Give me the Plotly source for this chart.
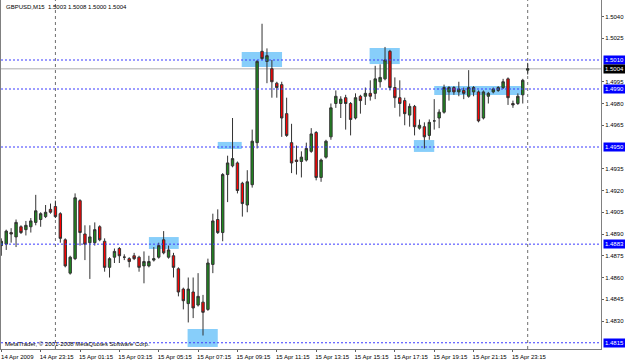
import pandas as pd
import plotly.graph_objects as go

# ---------------- data ----------------
bar_times = pd.date_range("2009-04-14 21:15", periods=108, freq="15min")

opens = [1.4882, 1.4883, 1.4891, 1.4888, 1.4895, 1.4893, 1.4895, 1.4898, 1.4900, 1.4902,
         1.4907, 1.4909, 1.4904, 1.4886, 1.4863, 1.4873, 1.4913, 1.4890, 1.4884, 1.4884,
         1.4895, 1.4885, 1.4867, 1.4874, 1.4880, 1.4874, 1.4873, 1.4875, 1.4874, 1.4868,
         1.4868, 1.4872, 1.4874, 1.4886, 1.4874, 1.4875, 1.4866, 1.4852, 1.4842, 1.4850,
         1.4841, 1.4843, 1.4838, 1.4869, 1.4900, 1.4891, 1.4931, 1.4937, 1.4939, 1.4925,
         1.4910, 1.4924, 1.4953, 1.5016, 1.5009, 1.5004, 1.4994, 1.4993, 1.4973, 1.4953,
         1.4941, 1.4940, 1.4941, 1.4947, 1.4960, 1.4929, 1.4943, 1.4957, 1.4980, 1.4980,
         1.4984, 1.4980, 1.4970, 1.4985, 1.4985, 1.4987, 1.4987, 1.4995, 1.4997, 1.5016,
         1.4991, 1.4984, 1.4982, 1.4972, 1.4978, 1.4963, 1.4964, 1.4958, 1.4968, 1.4970,
         1.4974, 1.4988, 1.4991, 1.4988, 1.4989, 1.4985, 1.4988, 1.4988, 1.4970, 1.4985,
         1.4988, 1.4989, 1.4991, 1.4997, 1.4980, 1.4980, 1.4986, 1.5003]
highs = [1.4887, 1.4893, 1.4894, 1.4900, 1.4896, 1.4899, 1.4901, 1.4917, 1.4905, 1.4910,
         1.4911, 1.4913, 1.4905, 1.4887, 1.4875, 1.4918, 1.4914, 1.4896, 1.4896, 1.4898,
         1.4896, 1.4887, 1.4874, 1.4880, 1.4881, 1.4876, 1.4874, 1.4877, 1.4875, 1.4878,
         1.4875, 1.4881, 1.4884, 1.4892, 1.4882, 1.4877, 1.4867, 1.4853, 1.4860, 1.4860,
         1.4863, 1.4848, 1.4873, 1.4904, 1.4907, 1.4932, 1.4944, 1.4970, 1.4940, 1.4926,
         1.4934, 1.4962, 1.5010, 1.5035, 1.5018, 1.5010, 1.4995, 1.4995, 1.4984, 1.4966,
         1.4951, 1.4947, 1.4953, 1.4963, 1.4961, 1.4942, 1.4955, 1.4980, 1.4989, 1.4985,
         1.4986, 1.4981, 1.4987, 1.4986, 1.4991, 1.4996, 1.5006, 1.5007, 1.5019, 1.5017,
         1.4998, 1.4996, 1.4984, 1.4980, 1.4979, 1.4969, 1.4967, 1.4969, 1.4983, 1.4976,
         1.4993, 1.4992, 1.4992, 1.4995, 1.4991, 1.5003, 1.4992, 1.4989, 1.4989, 1.4988,
         1.4991, 1.4992, 1.4997, 1.4998, 1.4982, 1.4987, 1.4997, 1.5008]
lows = [1.4875, 1.4879, 1.4884, 1.4881, 1.4890, 1.4889, 1.4891, 1.4896, 1.4895, 1.4901,
        1.4904, 1.4901, 1.4884, 1.4867, 1.4862, 1.4872, 1.4882, 1.4872, 1.4859, 1.4882,
        1.4885, 1.4864, 1.4860, 1.4870, 1.4870, 1.4872, 1.4867, 1.4872, 1.4864, 1.4856,
        1.4867, 1.4871, 1.4873, 1.4876, 1.4873, 1.4860, 1.4847, 1.4838, 1.4829, 1.4832,
        1.4840, 1.4820, 1.4837, 1.4863, 1.4890, 1.4885, 1.4912, 1.4936, 1.4918, 1.4902,
        1.4905, 1.4922, 1.4949, 1.5010, 1.4994, 1.4984, 1.4984, 1.4957, 1.4957, 1.4932,
        1.4931, 1.4929, 1.4940, 1.4946, 1.4927, 1.4926, 1.4942, 1.4955, 1.4977, 1.4970,
        1.4962, 1.4958, 1.4969, 1.4973, 1.4979, 1.4982, 1.4983, 1.4991, 1.4996, 1.4989,
        1.4977, 1.4971, 1.4965, 1.4964, 1.4958, 1.4962, 1.4949, 1.4955, 1.4962, 1.4963,
        1.4973, 1.4982, 1.4986, 1.4985, 1.4983, 1.4984, 1.4985, 1.4967, 1.4969, 1.4980,
        1.4987, 1.4988, 1.4990, 1.4979, 1.4977, 1.4979, 1.4980, 1.5000]
closes = [1.4885, 1.4892, 1.4890, 1.4898, 1.4891, 1.4896, 1.4899, 1.4906, 1.4904, 1.4905,
          1.4905, 1.4902, 1.4887, 1.4868, 1.4874, 1.4915, 1.4891, 1.4883, 1.4888, 1.4893,
          1.4886, 1.4867, 1.4873, 1.4878, 1.4875, 1.4874, 1.4871, 1.4873, 1.4867, 1.4871,
          1.4871, 1.4873, 1.4882, 1.4877, 1.4879, 1.4867, 1.4850, 1.4844, 1.4852, 1.4839,
          1.4847, 1.4836, 1.4870, 1.4899, 1.4891, 1.4931, 1.4939, 1.4942, 1.4920, 1.4911,
          1.4926, 1.4954, 1.5009, 1.5011, 1.5013, 1.4995, 1.4991, 1.4970, 1.4958, 1.4939,
          1.4940, 1.4943, 1.4949, 1.4959, 1.4929, 1.4941, 1.4954, 1.4977, 1.4985, 1.4983,
          1.4980, 1.4969, 1.4984, 1.4982, 1.4987, 1.4985, 1.4997, 1.4998, 1.5010, 1.4991,
          1.4984, 1.4980, 1.4973, 1.4978, 1.4964, 1.4965, 1.4957, 1.4967, 1.4968, 1.4974,
          1.4991, 1.4991, 1.4988, 1.4990, 1.4987, 1.4991, 1.4991, 1.4968, 1.4988, 1.4987,
          1.4990, 1.4991, 1.4995, 1.4984, 1.4979, 1.4985, 1.4996, 1.5004]

symbol_text = "GBPUSD,M15  1.5003 1.5008 1.5000 1.5004"
footer_text = "MetaTrader, \u00a9 2001-2008 MetaQuotes Software Corp."

x_tick_times = ["2009-04-14 21:15", "2009-04-14 23:15", "2009-04-15 01:15", "2009-04-15 03:15",
                "2009-04-15 05:15", "2009-04-15 07:15", "2009-04-15 09:15", "2009-04-15 11:15",
                "2009-04-15 13:15", "2009-04-15 15:15", "2009-04-15 17:15", "2009-04-15 19:15",
                "2009-04-15 21:15", "2009-04-15 23:15"]
x_tick_labels = ["14 Apr 2009", "14 Apr 23:15", "15 Apr 01:15", "15 Apr 03:15", "15 Apr 05:15",
                 "15 Apr 07:15", "15 Apr 09:15", "15 Apr 11:15", "15 Apr 13:15", "15 Apr 15:15",
                 "15 Apr 17:15", "15 Apr 19:15", "15 Apr 21:15", "15 Apr 23:15"]

y_tick_values = [1.5040, 1.5025, 1.4995, 1.4980, 1.4965, 1.4935, 1.4920, 1.4905,
                 1.4890, 1.4875, 1.4860, 1.4845, 1.4830]

level_prices = [1.5010, 1.4990, 1.4950, 1.4883, 1.4815]
level_labels = ["1.5010", "1.4990", "1.4950", "1.4883", "1.4815"]
bid_price = 1.5004
bid_label = "1.5004"

separator_times = ["2009-04-15 00:00", "2009-04-16 00:00"]

# zones: (start time, end time, top price, bottom price)
zone_starts = ["2009-04-15 09:28", "2009-04-15 08:15", "2009-04-15 15:58", "2009-04-15 18:13",
               "2009-04-15 19:15", "2009-04-15 04:45", "2009-04-15 06:43"]
zone_ends = ["2009-04-15 11:31", "2009-04-15 09:28", "2009-04-15 17:30", "2009-04-15 19:15",
             "2009-04-15 23:42", "2009-04-15 06:16", "2009-04-15 08:15"]
zone_tops = [1.50155, 1.49535, 1.50183, 1.49548, 1.49921, 1.48879, 1.48245]
zone_bottoms = [1.50052, 1.49486, 1.50072, 1.49466, 1.49859, 1.48797, 1.48121]

x_range = ["2009-04-14 21:14:05", "2009-04-16 03:43:30"]
y_range = [1.481069, 1.505138]

# ---------------- figure ----------------
FONT = "Liberation Sans, Arial, sans-serif"

fig = go.Figure()
fig.add_trace(go.Candlestick(
    x=bar_times, open=opens, high=highs, low=lows, close=closes,
    increasing=dict(fillcolor="#1f8a1f", line=dict(color="#333333", width=1)),
    decreasing=dict(fillcolor="#ff0000", line=dict(color="#333333", width=1)),
    whiskerwidth=0, showlegend=False, hoverinfo="skip",
))

shapes = []
for s, e, t, b in zip(zone_starts, zone_ends, zone_tops, zone_bottoms):
    shapes.append(dict(type="rect", xref="x", yref="y", x0=s, x1=e, y0=b, y1=t,
                       fillcolor="#87cefa", line=dict(width=0), layer="below"))
for t in separator_times:
    shapes.append(dict(type="line", xref="x", yref="paper", x0=t, x1=t, y0=0, y1=1,
                       line=dict(color="#6e6e6e", width=1, dash="dot"), layer="below"))
shapes.append(dict(type="line", xref="paper", yref="y", x0=0, x1=1, y0=bid_price, y1=bid_price,
                   line=dict(color="#c8c8c8", width=1.5), layer="below"))
for p in level_prices:
    shapes.append(dict(type="line", xref="paper", yref="y", x0=0, x1=1, y0=p, y1=p,
                       line=dict(color="#3a3aff", width=1, dash="2px,2px"), layer="above"))

annotations = []
for p, lab in zip(level_prices, level_labels):
    annotations.append(dict(xref="paper", yref="y", x=1, y=p, xanchor="left", yanchor="middle",
                            xshift=2, text=lab, showarrow=False, bgcolor="#0000ff",
                            borderpad=1, font=dict(family=FONT, size=6, color="white")))
annotations.append(dict(xref="paper", yref="y", x=1, y=bid_price, xanchor="left", yanchor="middle",
                        xshift=2, text=bid_label, showarrow=False, bgcolor="#000000",
                        borderpad=1, font=dict(family=FONT, size=6, color="white")))
annotations.append(dict(xref="paper", yref="paper", x=0, y=1, xanchor="left", yanchor="top",
                        xshift=3, yshift=-2, text=symbol_text, showarrow=False,
                        font=dict(family=FONT, size=6, color="black")))
annotations.append(dict(xref="paper", yref="paper", x=0, y=0, xanchor="left", yanchor="bottom",
                        xshift=2, yshift=0, text=footer_text, showarrow=False,
                        font=dict(family=FONT, size=6, color="black")))

fig.update_layout(
    width=625, height=361,
    margin=dict(l=1, r=24, t=0, b=12),
    paper_bgcolor="white", plot_bgcolor="white",
    shapes=shapes, annotations=annotations,
    font=dict(family=FONT, size=6, color="black"),
    xaxis=dict(type="date", range=x_range, rangeslider=dict(visible=False),
               tickmode="array", tickvals=x_tick_times, ticktext=x_tick_labels,
               showgrid=False, zeroline=False, showline=True, linecolor="#808080", linewidth=1,
               ticks="outside", ticklen=2, tickcolor="#606060", ticklabelshift=16,
               tickfont=dict(family=FONT, size=6, color="black"), fixedrange=True),
    yaxis=dict(side="right", range=y_range, tickmode="array", tickvals=y_tick_values,
               ticktext=[f"{v:.4f}" for v in y_tick_values],
               showgrid=False, zeroline=False, showline=True, mirror=True,
               linecolor="#808080", linewidth=1,
               ticks="outside", ticklen=2, tickcolor="#606060",
               tickfont=dict(family=FONT, size=6, color="black"), fixedrange=True),
)

fig.write_html("out.html")
